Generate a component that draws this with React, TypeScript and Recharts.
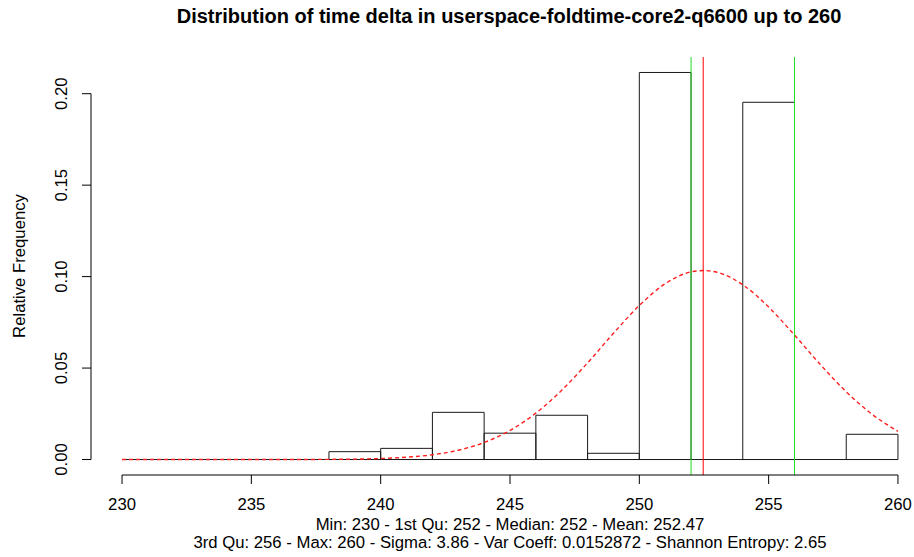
import React from 'react';
import { ComposedChart, XAxis, YAxis, Line, ReferenceArea, ReferenceLine } from 'recharts';

// ---- data ----
const binEdges = [230, 232, 234, 236, 238, 240, 242, 244, 246, 248, 250, 252, 254, 256, 258, 260];
const binDensity = [0, 0, 0, 0, 0.0043, 0.0061, 0.0258, 0.0144, 0.0242, 0.0034, 0.2116, 0, 0.1953, 0, 0.0138];

const curveX = [230, 231, 232, 233, 234, 235, 236, 237, 238, 239, 240, 241, 242, 243, 244, 245, 246, 247, 248, 249, 250, 251, 252, 252.5, 253, 254, 255, 256, 257, 258, 259, 260];
const curveDensity = [0, 0, 0.0000001, 0.0000003, 0.0000011, 0.0000037, 0.0000115, 0.000034, 0.000092, 0.000234, 0.00056, 0.00125, 0.00261, 0.0051, 0.00931, 0.01589, 0.02536, 0.03787, 0.05286, 0.069, 0.08422, 0.09613, 0.1026, 0.1033, 0.1024, 0.09554, 0.08337, 0.06803, 0.0519, 0.03704, 0.02471, 0.01541];

const quartileLines = [252, 256];
const meanLine = [252.47];

const xTicks = [230, 235, 240, 245, 250, 255, 260];
const yTicks = [0, 0.05, 0.1, 0.15, 0.2];
const yTickLabels = ['0.00', '0.05', '0.10', '0.15', '0.20'];

const titleText = 'Distribution of time delta in userspace-foldtime-core2-q6600 up to 260';
const yLabelText = 'Relative Frequency';
const summaryLines = [
  'Min: 230 - 1st Qu: 252 - Median: 252 - Mean: 252.47',
  '3rd Qu: 256 - Max: 260 - Sigma: 3.86 - Var Coeff: 0.0152872 - Shannon Entropy: 2.65',
];

const X_DOMAIN: [number, number] = [228.8, 261.2];
const Y_DOMAIN: [number, number] = [-0.00846, 0.22006];

const bins = binDensity.map((d, i) => ({ x1: binEdges[i], x2: binEdges[i + 1], d }));
const curveData = curveX.map((x, i) => ({ x, d: curveDensity[i] }));

const FONT = '"Liberation Sans", Arial, Helvetica, sans-serif';
const FS = 16.7;

const XTick = (props: any) => {
  const { x, y, payload } = props;
  return (
    <text x={x} y={y} dy={26} textAnchor="middle" fontSize={FS} fontFamily={FONT} fill="#000">
      {payload.value}
    </text>
  );
};

const YTick = (props: any) => {
  const { x, y, payload } = props;
  const tx = x - 15;
  const label = yTickLabels[yTicks.indexOf(payload.value)] ?? String(payload.value);
  return (
    <text x={tx} y={y} transform={`rotate(-90 ${tx} ${y})`} textAnchor="middle" fontSize={FS} fontFamily={FONT} fill="#000">
      {label}
    </text>
  );
};

export default function App() {
  return (
    <div style={{ position: 'absolute', left: 0, top: 0, width: 914, height: 557, overflow: 'hidden', background: '#fff' }}>
      <ComposedChart width={930} height={557} margin={{ top: 57, right: 1, bottom: 0, left: 0 }}>
        <XAxis
          dataKey="x"
          type="number"
          domain={X_DOMAIN}
          ticks={xTicks}
          allowDataOverflow
          axisLine={false}
          tickLine={{ stroke: '#000' }}
          tickSize={9}
          tickMargin={0}
          tick={<XTick />}
          height={82}
          interval={0}
        />
        <YAxis
          type="number"
          domain={Y_DOMAIN}
          ticks={yTicks}
          allowDataOverflow
          axisLine={false}
          tickLine={{ stroke: '#000' }}
          tickSize={9}
          tickMargin={0}
          tick={<YTick />}
          width={91}
          interval={0}
        />
        {bins.map((b, i) => (
          <ReferenceArea
            key={'bin' + i}
            x1={b.x1}
            x2={b.x2}
            y1={0}
            y2={b.d}
            fill="none"
            fillOpacity={0}
            stroke="#1a1a1a"
            strokeWidth={1}
            strokeOpacity={1}
            ifOverflow="visible"
          />
        ))}
        <ReferenceLine
          segment={[{ x: binEdges[0], y: 0 }, { x: binEdges[binEdges.length - 1], y: 0 }]}
          stroke="#1a1a1a"
          strokeWidth={1}
          ifOverflow="visible"
        />
        <Line
          data={curveData}
          dataKey="d"
          type="monotone"
          stroke="#ff2020"
          strokeWidth={1.4}
          strokeDasharray="4 3"
          dot={false}
          activeDot={false}
          isAnimationActive={false}
        />
        {quartileLines.map((q, i) => (
          <ReferenceLine key={'q' + i} x={q} stroke="#22dd22" strokeWidth={1} ifOverflow="visible" />
        ))}
        {meanLine.map((m, i) => (
          <ReferenceLine key={'m' + i} x={m} stroke="#ff0000" strokeWidth={1} ifOverflow="visible" />
        ))}
        {/* R-style axis lines spanning only the tick range */}
        <ReferenceLine
          segment={[{ x: xTicks[0], y: Y_DOMAIN[0] }, { x: xTicks[xTicks.length - 1], y: Y_DOMAIN[0] }]}
          stroke="#000"
          strokeWidth={1}
          ifOverflow="visible"
        />
        <ReferenceLine
          segment={[{ x: X_DOMAIN[0], y: yTicks[0] }, { x: X_DOMAIN[0], y: yTicks[yTicks.length - 1] }]}
          stroke="#000"
          strokeWidth={1}
          ifOverflow="visible"
        />
      </ComposedChart>
      <svg width={914} height={557} style={{ position: 'absolute', left: 0, top: 0, pointerEvents: 'none' }}>
        <text x={509} y={23} textAnchor="middle" fontSize={20} fontWeight="bold" fontFamily={FONT} fill="#000">
          {titleText}
        </text>
        <text x={25} y={266} transform="rotate(-90 25 266)" textAnchor="middle" fontSize={FS} fontFamily={FONT} fill="#000">
          {yLabelText}
        </text>
        {summaryLines.map((s, i) => (
          <text key={i} x={510} y={529.5 + i * 18.5} textAnchor="middle" fontSize={FS} fontFamily={FONT} fill="#000">
            {s}
          </text>
        ))}
      </svg>
    </div>
  );
}
